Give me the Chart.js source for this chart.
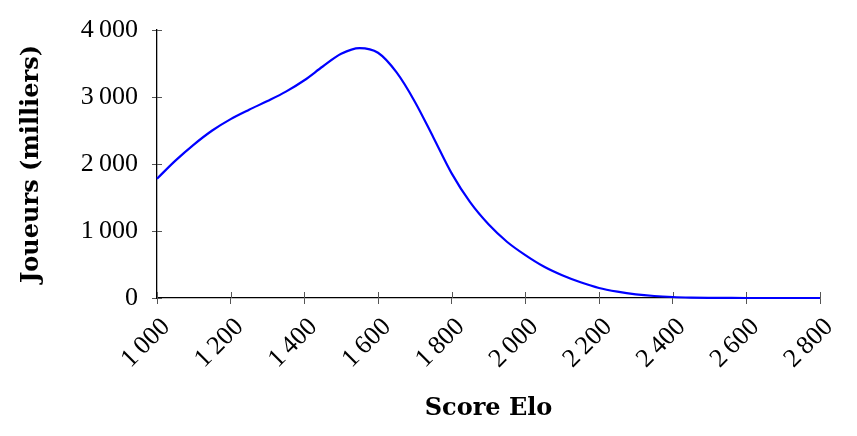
<!DOCTYPE html>
<html>
<head>
<meta charset="utf-8">
<script src="https://cdn.jsdelivr.net/npm/chart.js@4"></script>
<style>
  html, body { margin: 0; padding: 0; background: #fff; }
  #wrap { width: 857px; height: 436px; }
</style>
</head>
<body>
<div id="wrap"><canvas id="chart"></canvas></div>
<script>
  // Elo score (x) and players in thousands (y)
  const eloScores = [1000, 1050, 1100, 1150, 1200, 1250, 1300, 1350, 1400, 1450, 1500, 1550, 1600, 1650, 1700, 1750, 1800, 1850, 1900, 1950, 2000, 2050, 2100, 2150, 2200, 2250, 2300, 2350, 2400, 2450, 2500, 2550, 2600, 2700, 2800];
  const players = [1780, 2050, 2290, 2500, 2670, 2810, 2940, 3080, 3250, 3455, 3645, 3730, 3660, 3370, 2930, 2400, 1860, 1430, 1100, 840, 640, 470, 340, 235, 150, 95, 55, 30, 15, 7, 3, 1, 0, 0, 0];

  const xTicks = [1000, 1200, 1400, 1600, 1800, 2000, 2200, 2400, 2600, 2800];
  const yTicks = [0, 1000, 2000, 3000, 4000];

  // 4000 -> "4 000" with a thin space
  function fmt(v) {
    const s = String(v);
    return s.length > 3 ? s.slice(0, -3) + '\u2009' + s.slice(-3) : s;
  }

  const tickFont = { family: 'Liberation Serif', size: 26 };
  const titleFont = { family: 'DejaVu Serif', size: 24, weight: 'bold' };

  // ticks that cross the axis line, pgfplots style
  const innerTicks = {
    id: 'innerTicks',
    beforeDatasetsDraw(chart) {
      const ctx = chart.ctx;
      const xs = chart.scales.x, ys = chart.scales.y;
      ctx.save();
      ctx.strokeStyle = '#555';
      ctx.lineWidth = 1;
      ctx.beginPath();
      xs.ticks.forEach((t, i) => {
        const px = Math.round(xs.getPixelForTick(i)) + 0.5;
        ctx.moveTo(px, ys.bottom);
        ctx.lineTo(px, ys.bottom - 6);
      });
      ys.ticks.forEach((t, i) => {
        const py = Math.round(ys.getPixelForTick(i)) + 0.5;
        ctx.moveTo(xs.left, py);
        ctx.lineTo(xs.left + 5, py);
      });
      ctx.stroke();
      ctx.restore();
    }
  };

  const ctx = document.getElementById('chart').getContext('2d');
  new Chart(ctx, {
    type: 'line',
    data: {
      datasets: [{
        data: eloScores.map((x, i) => ({ x: x, y: players[i] })),
        borderColor: '#0000ff',
        borderWidth: 2.2,
        pointRadius: 0,
        fill: false,
        clip: 4,
        cubicInterpolationMode: 'monotone'
      }]
    },
    options: {
      responsive: true,
      maintainAspectRatio: false,
      animation: false,
      layout: { padding: { top: 30, right: 37, left: 0, bottom: 0 } },
      plugins: { legend: { display: false }, tooltip: { enabled: false } },
      scales: {
        x: {
          type: 'linear',
          min: 1000,
          max: 2800,
          afterBuildTicks(scale) { scale.ticks = xTicks.map(v => ({ value: v })); },
          afterFit(scale) { scale.height = 138; },
          ticks: {
            font: tickFont,
            color: '#000',
            minRotation: 45,
            maxRotation: 45,
            padding: 8,
            labelOffset: 9,
            callback: v => fmt(v)
          },
          grid: { drawOnChartArea: false, tickLength: 6, color: '#555' },
          border: { color: '#000', width: 1.3 },
          title: {
            display: true,
            text: 'Score Elo',
            font: titleFont,
            color: '#000',
            padding: { top: 0, bottom: 13 }
          }
        },
        y: {
          min: 0,
          max: 4000,
          afterBuildTicks(scale) { scale.ticks = yTicks.map(v => ({ value: v })); },
          afterFit(scale) { scale.width = 157; },
          ticks: {
            font: tickFont,
            color: '#000',
            padding: 14,
            callback: v => fmt(v)
          },
          grid: { drawOnChartArea: false, tickLength: 5, color: '#555' },
          border: { color: '#000', width: 1.3 },
          title: {
            display: true,
            text: 'Joueurs (milliers)',
            font: titleFont,
            color: '#000',
            padding: { top: 17, bottom: 0 }
          }
        }
      }
    },
    plugins: [innerTicks]
  });
</script>
</body>
</html>
